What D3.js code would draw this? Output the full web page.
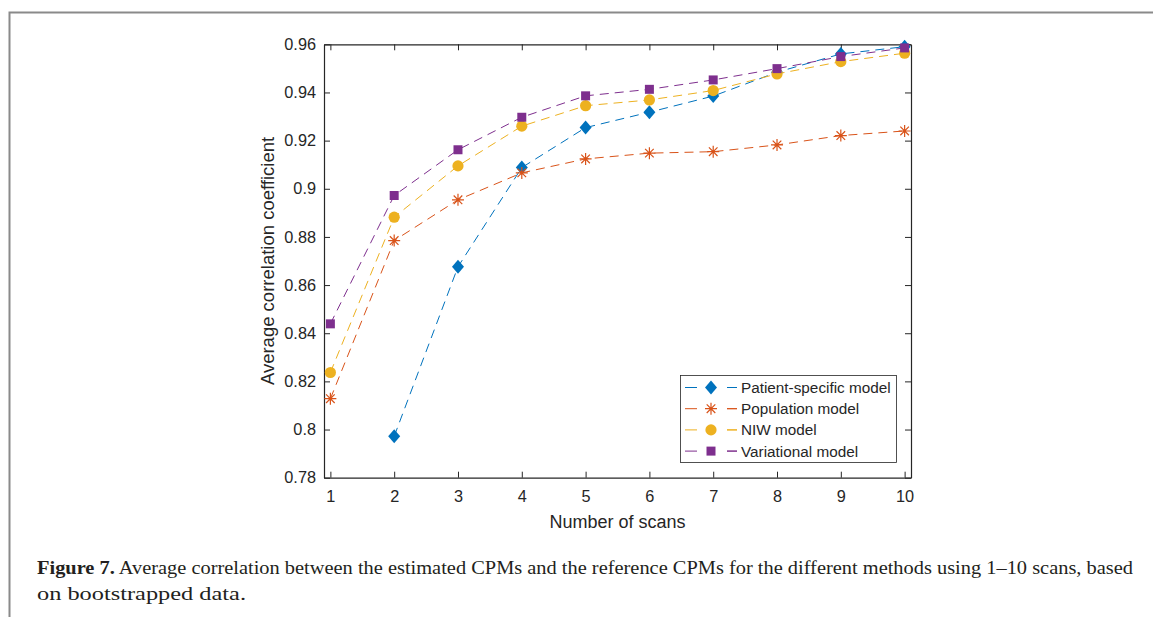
<!DOCTYPE html>
<html>
<head>
<meta charset="utf-8">
<script src="https://cdn.jsdelivr.net/npm/d3@7"></script>
<style>
    html, body { margin: 0; padding: 0; background: #fff; }
    svg { display: block; }
</style>
</head>
<body>
<div id="chart"></div>
<script>
// Data
const scans = [1, 2, 3, 4, 5, 6, 7, 8, 9, 10];
const patientSpecific = [null, 0.7972, 0.8676, 0.9088, 0.9254, 0.9318, 0.9385, 0.9484, 0.9560, 0.9590];
const population = [0.8128, 0.8785, 0.8954, 0.9066, 0.9124, 0.9148, 0.9154, 0.9182, 0.9221, 0.9240];
const niw = [0.8237, 0.8882, 0.9095, 0.9260, 0.9345, 0.9369, 0.9408, 0.9477, 0.9528, 0.9563];
const variational = [0.8439, 0.8972, 0.9162, 0.9297, 0.9386, 0.9413, 0.9452, 0.9499, 0.9549, 0.9585];

const seriesNames = ["Patient-specific model", "Population model", "NIW model", "Variational model"];
const seriesColors = ["#0072BD", "#D95319", "#EDB120", "#7E2F8E"];
const seriesMarkers = ["diamond", "asterisk", "circle", "square"];
const seriesValues = [patientSpecific, population, niw, variational];

const xTicks = [1, 2, 3, 4, 5, 6, 7, 8, 9, 10];
const yTicks = [0.78, 0.8, 0.82, 0.84, 0.86, 0.88, 0.9, 0.92, 0.94, 0.96];

const xLabel = "Number of scans";
const yLabel = "Average correlation coefficient";
const captionBold = "Figure 7.";
const captionLine1 = " Average correlation between the estimated CPMs and the reference CPMs for the different methods using 1\u201310 scans, based";
const captionLine2 = "on bootstrapped data.";

const width = 1153, height = 617;
const axisColor = "#262626";
const font = "'Liberation Sans', Arial, Helvetica, sans-serif";

const svg = d3.select("#chart").append("svg")
    .attr("width", width)
    .attr("height", height);

// page frame (grey edge of the journal page)
svg.append("path")
    .attr("d", "M9.5,617 V12.5 H1153")
    .attr("fill", "none")
    .attr("stroke", "#8a8a8a")
    .attr("stroke-width", 2);

const plot = { left: 324, right: 911, top: 44.3, bottom: 477.7 };

const x = d3.scaleLinear().domain([0.9, 10.1]).range([plot.left, plot.right]);
const y = d3.scaleLinear().domain([0.78, 0.96]).range([plot.bottom, plot.top]);

const tickLen = 6;
const yFormat = d => d3.format("")(+d.toFixed(2));

// axes, ticks pointing inward like matlab
const axisBottom = d3.axisBottom(x).tickValues(xTicks).tickSizeInner(-tickLen).tickSizeOuter(0).tickPadding(13);
const axisTop = d3.axisTop(x).tickValues(xTicks).tickSizeInner(-tickLen).tickSizeOuter(0).tickFormat("");
const axisLeft = d3.axisLeft(y).tickValues(yTicks).tickSizeInner(-tickLen).tickSizeOuter(0).tickPadding(8).tickFormat(yFormat);
const axisRight = d3.axisRight(y).tickValues(yTicks).tickSizeInner(-tickLen).tickSizeOuter(0).tickFormat("");

function styleAxis(g) {
    g.select(".domain").attr("stroke", axisColor).attr("stroke-width", 1.2);
    g.selectAll(".tick line").attr("stroke", axisColor).attr("stroke-width", 1);
    g.selectAll(".tick text")
        .attr("fill", axisColor)
        .style("font-family", font)
        .style("font-size", "16.3px");
}

svg.append("g").attr("transform", `translate(0,${plot.bottom})`).call(axisBottom).call(styleAxis);
svg.append("g").attr("transform", `translate(0,${plot.top})`).call(axisTop).call(styleAxis);
svg.append("g").attr("transform", `translate(${plot.left},0)`).call(axisLeft).call(styleAxis);
svg.append("g").attr("transform", `translate(${plot.right},0)`).call(axisRight).call(styleAxis);

// axis labels
svg.append("text")
    .attr("x", (plot.left + plot.right) / 2)
    .attr("y", 528)
    .attr("text-anchor", "middle")
    .attr("fill", axisColor)
    .style("font-family", font)
    .style("font-size", "18px")
    .text(xLabel);

svg.append("text")
    .attr("transform", `translate(274,${(plot.top + plot.bottom) / 2}) rotate(-90)`)
    .attr("text-anchor", "middle")
    .attr("fill", axisColor)
    .style("font-family", font)
    .style("font-size", "18.5px")
    .text(yLabel);

// marker shapes
function markerPath(type) {
    if (type === "diamond") return "M0,-7 L6,0 L0,7 L-6,0 Z";
    if (type === "square") return "M-4.5,-4.5 H4.5 V4.5 H-4.5 Z";
    if (type === "asterisk") return "M0,-6 V6 M-6,0 H6 M-4.3,-4.3 L4.3,4.3 M-4.3,4.3 L4.3,-4.3";
    return d3.symbol(d3.symbolCircle, Math.PI * 5.6 * 5.6)();
}

function drawMarker(g, type, color) {
    const p = g.append("path").attr("d", markerPath(type));
    if (type === "asterisk") {
        p.attr("fill", "none").attr("stroke", color).attr("stroke-width", 1.2);
    } else {
        p.attr("fill", color);
    }
    return p;
}

const line = d3.line()
    .defined(d => d.v !== null)
    .x(d => x(d.s))
    .y(d => y(d.v));

seriesValues.forEach((vals, i) => {
    const pts = scans.map((s, j) => ({ s: s, v: vals[j] }));
    const g = svg.append("g").attr("class", "series");

    g.append("path")
        .datum(pts)
        .attr("d", line)
        .attr("fill", "none")
        .attr("stroke", seriesColors[i])
        .attr("stroke-width", 1)
        .attr("stroke-dasharray", "9,6");

    pts.filter(d => d.v !== null).forEach(d => {
        const m = g.append("g").attr("transform", `translate(${x(d.s)},${y(d.v)})`);
        drawMarker(m, seriesMarkers[i], seriesColors[i]);
    });
});

// legend
const legend = svg.append("g");
legend.append("rect")
    .attr("x", 680.5)
    .attr("y", 375.5)
    .attr("width", 216)
    .attr("height", 87)
    .attr("fill", "#fff")
    .attr("stroke", axisColor)
    .attr("stroke-width", 0.8);

const legendRowY = [387.5, 408.7, 429.9, 451.1];
seriesNames.forEach((name, i) => {
    const row = legend.append("g").attr("transform", `translate(0,${legendRowY[i]})`);
    row.append("line")
        .attr("x1", 685).attr("x2", 737)
        .attr("y1", 0).attr("y2", 0)
        .attr("stroke", seriesColors[i])
        .attr("stroke-width", 1)
        .attr("stroke-dasharray", "12,30");
    row.append("line")
        .attr("x1", 727).attr("x2", 737)
        .attr("y1", 0).attr("y2", 0)
        .attr("stroke", seriesColors[i])
        .attr("stroke-width", 1);
    const m = row.append("g").attr("transform", "translate(711,0)");
    drawMarker(m, seriesMarkers[i], seriesColors[i]);
    row.append("text")
        .attr("x", 741)
        .attr("y", 5.5)
        .attr("fill", axisColor)
        .style("font-family", font)
        .style("font-size", "15.3px")
        .text(name);
});

// caption
const serif = "'Liberation Serif', 'Times New Roman', serif";
const cap1 = svg.append("text")
    .attr("x", 37)
    .attr("y", 574)
    .attr("fill", "#231f20")
    .attr("textLength", 1096)
    .attr("lengthAdjust", "spacingAndGlyphs")
    .style("font-family", serif)
    .style("font-size", "19px");
cap1.append("tspan").style("font-weight", "bold").text(captionBold);
cap1.append("tspan").text(captionLine1);

svg.append("text")
    .attr("x", 37)
    .attr("y", 600)
    .attr("fill", "#231f20")
    .attr("textLength", 209)
    .attr("lengthAdjust", "spacingAndGlyphs")
    .style("font-family", serif)
    .style("font-size", "19px")
    .text(captionLine2);
</script>
</body>
</html>
